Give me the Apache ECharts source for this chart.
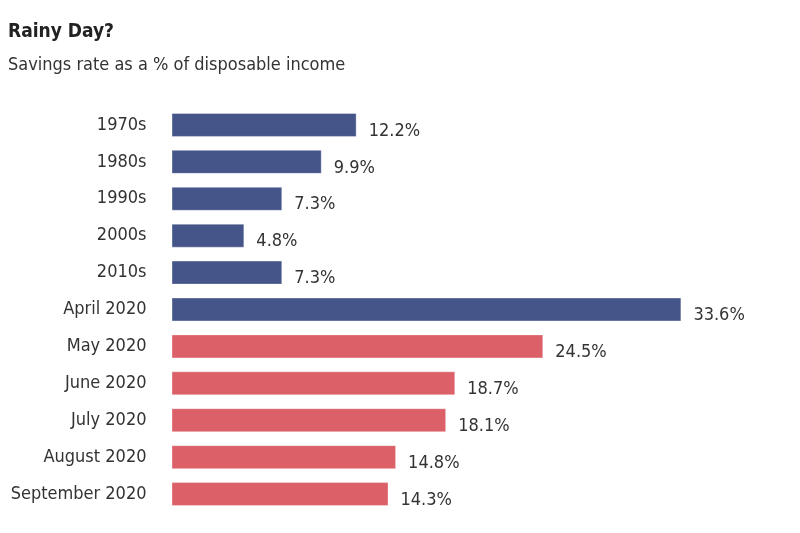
<!DOCTYPE html>
<html><head><meta charset="utf-8">
<script src="https://cdn.jsdelivr.net/npm/echarts@6/dist/echarts.min.js"></script>
<style>html,body{margin:0;padding:0;background:#fff}#c{width:800px;height:533px}</style>
</head><body><div id="c"></div>
<script>
const categories = ["1970s","1980s","1990s","2000s","2010s","April 2020","May 2020","June 2020","July 2020","August 2020","September 2020"];
const values = [12.2, 9.9, 7.3, 4.8, 7.3, 33.6, 24.5, 18.7, 18.1, 14.8, 14.3];
const colorsByCat = ["#45558a","#45558a","#45558a","#45558a","#45558a","#45558a","#db6068","#db6068","#db6068","#db6068","#db6068"];
const FONT = '"DejaVu Sans Condensed", "Liberation Sans Narrow", sans-serif';
const chart = echarts.init(document.getElementById('c'));
chart.setOption({
  animation: false,
  title: {
    text: 'Rainy Day?',
    subtext: 'Savings rate as a % of disposable income',
    left: 3, top: 18, itemGap: 14,
    textStyle: {fontFamily: FONT, fontWeight: 'bold', fontSize: 19, color: '#222'},
    subtextStyle: {fontFamily: FONT, fontSize: 18, color: '#333'}
  },
  grid: {left: 171.5, right: 21.5, top: 106.5, bottom: 20.5, containLabel: false, outerBoundsMode: 'none'},
  xAxis: {type: 'value', min: 0, max: 40, show: false},
  yAxis: {
    type: 'category', data: categories, inverse: true,
    axisLine: {show: false}, axisTick: {show: false},
    axisLabel: {margin: 25, fontFamily: FONT, fontSize: 18, color: '#333'}
  },
  series: [{
    type: 'bar', data: values.map((v, i) => ({value: v, itemStyle: {color: colorsByCat[i]}})),
    barCategoryGap: '35%',
    itemStyle: {borderColor: 'rgba(255,255,255,0.35)', borderWidth: 1},
    label: {show: true, position: 'right', distance: 12, offset: [0, 6],
      formatter: p => p.value.toFixed(1) + '%', fontFamily: FONT, fontSize: 18, color: '#333'}
  }]
});
</script></body></html>
